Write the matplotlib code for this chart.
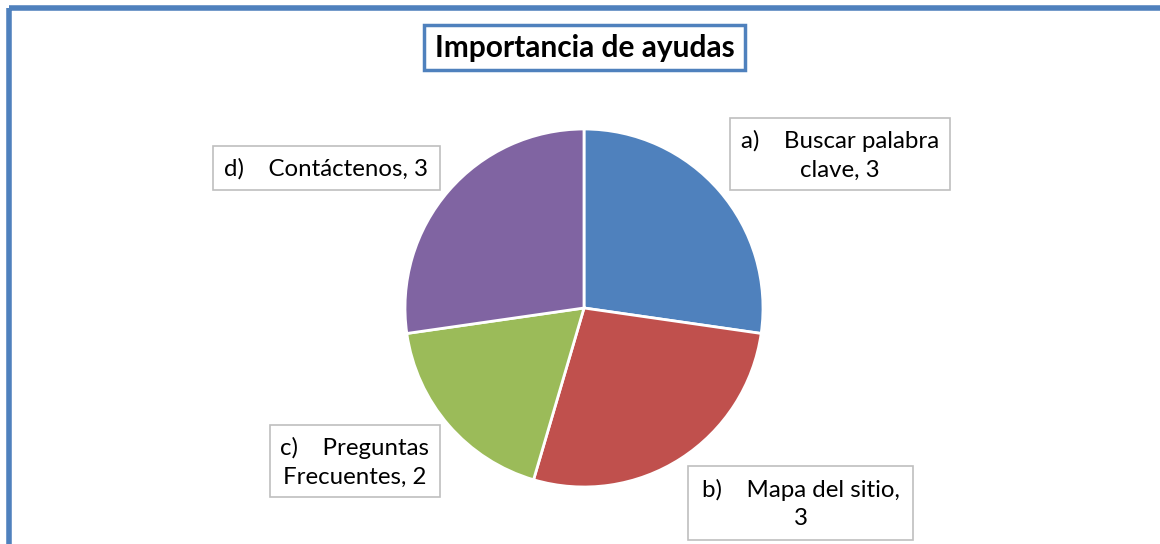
import matplotlib.pyplot as plt
from matplotlib.patches import Rectangle

# data
letters = ["a)", "b)", "c)", "d)"]
values = [3, 3, 2, 3]
colors = ["#4F81BD", "#C0504D", "#9BBB59", "#8064A2"]
title = "Importancia de ayudas"

# label box layout in pixels (x0, y0, x1, y1) and text strings
boxes = [(730, 118, 950, 190), (688, 466, 913, 540), (270, 425, 440, 497), (213, 146, 440, 190)]
label_texts = [
    f"{letters[0]}    Buscar palabra\nclave, {values[0]}",
    f"{letters[1]}    Mapa del sitio,\n{values[1]}",
    f"{letters[2]}    Preguntas\nFrecuentes, {values[2]}",
    f"{letters[3]}    Contáctenos, {values[3]}",
]

W, H = 1160, 544
plt.rcParams["font.family"] = ["Lato", "DejaVu Sans"]

fig = plt.figure(figsize=(W / 100, H / 100), dpi=100)
fig.patch.set_facecolor("white")

# pie axes: centre (584, 308), radius 179 px
cx, cy, r = 584, 308, 179
ax = fig.add_axes([(cx - r) / W, (H - cy - r) / H, 2 * r / W, 2 * r / H])
ax.pie(values, colors=colors, startangle=90, counterclock=False,
       wedgeprops=dict(edgecolor="white", linewidth=2))
ax.set_xlim(-1, 1)
ax.set_ylim(-1, 1)
ax.set_aspect("equal")
ax.axis("off")

# overlay in pixel coordinates for frame
ov = fig.add_axes([0, 0, 1, 1], zorder=-1)
ov.set_xlim(0, W)
ov.set_ylim(H, 0)
ov.axis("off")
ov.patch.set_alpha(0)

# outer blue frame (bottom runs off the image)
ov.add_patch(Rectangle((8.5, 8), W - 6.5, H + 20, fill=False, edgecolor="#4F81BD", linewidth=4))

ov2 = fig.add_axes([0, 0, 1, 1], zorder=5)
ov2.set_xlim(0, W)
ov2.set_ylim(H, 0)
ov2.axis("off")
ov2.patch.set_alpha(0)

# title box
ov2.add_patch(Rectangle((424, 25), 321, 45, facecolor="white", edgecolor="#4F81BD", linewidth=2.5))
ov2.text(585, 48, title, ha="center", va="center", fontsize=21.5, fontweight="bold", color="black")

for (x0, y0, x1, y1), txt in zip(boxes, label_texts):
    ov2.add_patch(Rectangle((x0, y0), x1 - x0, y1 - y0, facecolor="white", edgecolor="#BFBFBF", linewidth=1.2))
    ov2.text((x0 + x1) / 2, (y0 + y1) / 2 + 1, txt, ha="center", va="center",
             multialignment="center", fontsize=17.3, color="black", linespacing=1.45)

fig.savefig("out.png", dpi=100)
